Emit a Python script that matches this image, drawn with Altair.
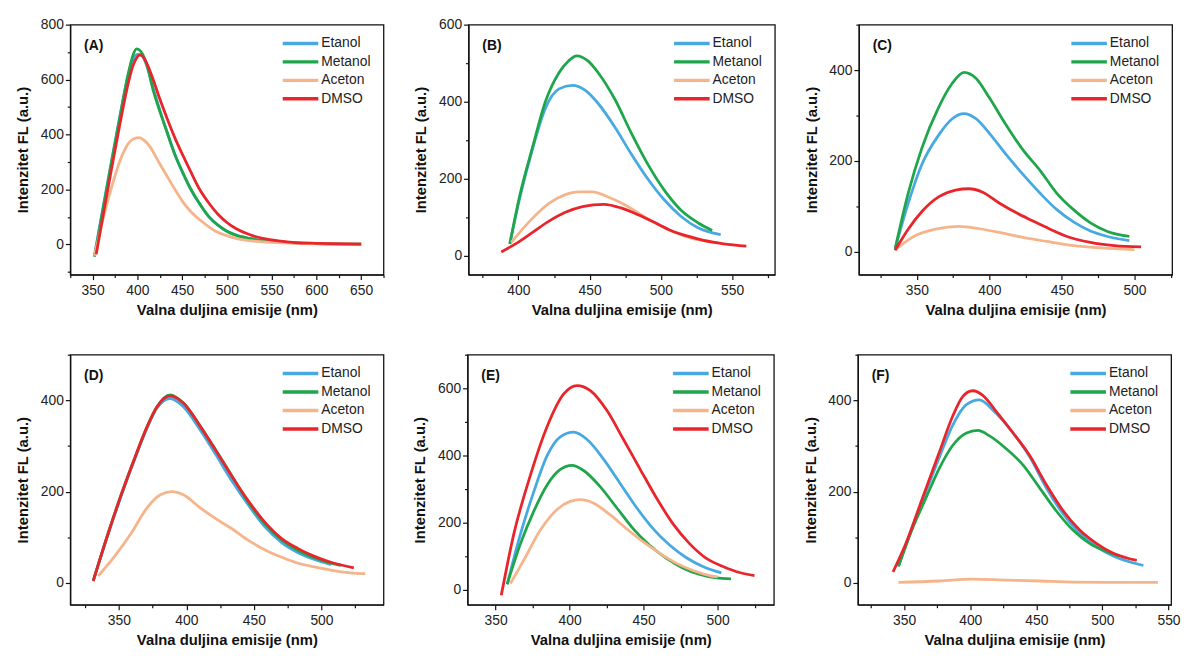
import altair as alt
import pandas as pd

SOLVENTS = ["Etanol", "Metanol", "Aceton", "DMSO"]
COLORS = ["#47a9e1", "#1fa64b", "#f6b48b", "#e8252b"]

# ---- Panel A ----
A_ETANOL = [(352,-40),(360,105),(370,285),(380,460),(390,620),(395,672),(400,692),(405,688),(410,655),(418,565),(425,490),(433,410),(441,335),(451,258),(460,198),(470,145),(480,100),(490,70),(500,48),(510,34),(525,22),(540,14),(560,8),(600,3),(650,1)]
A_METANOL = [(352,-45),(360,100),(370,280),(380,455),(390,625),(395,688),(399,712),(404,702),(410,660),(418,557),(425,485),(433,410),(441,335),(451,260),(460,200),(470,146),(480,100),(490,70),(500,48),(510,34),(525,22),(540,14),(560,8),(600,3),(650,1)]
A_ACETON = [(352,-41),(360,70),(367,160),(375,250),(381,308),(390,368),(396,385),(402,389),(408,378),(414,356),(423,305),(433,249),(442,200),(451,154),(460,118),(470,89),(480,64),(488,47),(500,32),(510,22),(525,14),(545,8),(575,4),(610,2),(650,1)]
A_DMSO = [(354,-36),(360,75),(370,255),(380,430),(390,590),(395,650),(400,683),(403,690),(408,675),(413,640),(418,597),(425,530),(433,460),(442,387),(451,323),(460,262),(470,198),(480,150),(490,110),(500,80),(510,58),(525,36),(540,22),(560,12),(580,6),(600,4),(650,1)]

# ---- Panel B ----
B_ETANOL = [(394,30),(401,150),(410,278),(419,383),(428.5,433),(438,442),(447,429),(456,395),(468,332),(479,265),(491,198),(502.5,144),(514,102),(526,72),(542,54)]
B_METANOL = [(394,30),(401,156),(410,282),(419,400),(428.5,475),(435,505),(441,519),(449,505),(456,475),(468,404),(479,320),(491,236),(502.5,169),(514,118),(526,85),(536,65)]
B_ACETON = [(395,34),(410,97),(421.5,135),(433,158),(442,165),(451.6,165),(463,152),(475,131),(486,106),(498,81),(509.5,60),(521,45),(533,37),(540,33)]
B_DMSO = [(388,9),(398,30),(410,60),(421.5,89),(433,112),(445,127),(460,133),(472.5,123),(484,106),(496,85),(507,65),(519,50),(530,39),(544,30),(560,24)]

# ---- Panel C ----
C_ETANOL = [(335,7),(344,107),(353.5,193),(365,257),(374.4,293),(382.5,304),(390.7,293),(400,261),(411.6,214),(423,171),(435,129),(446.5,93),(458,66),(469.7,46),(481.4,34),(496.5,25)]
C_METANOL = [(335,7),(344,129),(353.5,229),(365,318),(374.4,371),(382.5,395),(390.7,382),(400,339),(411.6,279),(423,225),(435,179),(446.5,129),(458,93),(469.7,64),(481.4,45),(496.5,34)]
C_ACETON = [(336,7),(349,36),(362.8,50),(379,56),(393,51),(407,43),(423,32),(439.5,23),(458,14),(476.7,9),(500,5)]
C_DMSO = [(335,3.5),(344,50),(353.5,89),(365,121),(376.7,136),(386,139),(395,132),(407,107),(418.6,86),(430,68),(441.8,50),(453.5,34),(469.7,21),(486,14),(504.6,11)]

# ---- Panel D ----
D_ETANOL = [(331,4),(342,106),(351.7,190),(361.4,268),(371,340),(378,382),(388,404),(397.8,386),(410,336),(422,280),(434,222),(446,170),(458.4,122),(470.6,88),(482.7,66),(494.8,51),(507,40)]
D_METANOL = [(331,4),(342,108),(351.7,193),(361.4,271),(371,343),(378,385),(388,412),(397.8,394),(410,345),(422,290),(434,233),(446,176),(458.4,129),(470.6,94),(482.7,71),(494.8,55),(507,43),(515,38)]
D_ACETON = [(334.7,15),(346.8,58),(359,108),(371,165),(380.8,193),(389.3,200),(397.8,193),(410,165),(422,140),(434,118),(446,93),(458.4,72),(470.6,56),(482.7,43),(494.8,35),(507,28),(521.5,22),(532.4,20)]
D_DMSO = [(331,4),(342,108),(351.7,193),(361.4,271),(371,343),(378,385),(388,410),(397.8,394),(410,344),(422,289),(434,232),(446,179),(458.4,132),(470.6,97),(482.7,75),(494.8,58),(507,45),(524,33)]

# ---- Panel E ----
E_ETANOL = [(357.8,16),(366.8,166),(375.8,292),(384.8,399),(393.7,455),(402.7,469),(411.6,448),(422.9,389),(434,317),(445.3,244),(456.5,181),(467.7,132),(478.9,95),(490,69),(502.5,50)]
E_METANOL = [(357.8,16),(366.8,137),(375.8,234),(384.8,312),(393.7,358),(401.6,370),(409.4,355),(420.6,307),(431.8,244),(443,181),(454,132),(465.5,93),(476.7,64),(487.9,45),(499,35),(509,32)]
E_ACETON = [(360,18),(369,88),(380,176),(391.5,239),(400.4,263),(407,268),(416,258),(427,224),(438.6,181),(449.8,142),(461,108),(472,79),(483.4,57),(494.6,42),(500,38)]
E_DMSO = [(353.8,-17),(362.3,166),(373.5,341),(384.8,486),(396,583),(405,608),(414,593),(425,535),(436.3,448),(447.5,360),(458.7,273),(470,195),(481,137),(492.4,93),(503.6,69),(514.8,51),(524.9,42)]

# ---- Panel F ----
F_ETANOL = [(345.7,36),(356.3,122),(366.5,200),(376.6,275),(386.7,345),(396.8,390),(407,401),(417,379),(432.3,329),(445,276),(457.6,208),(470.3,151),(483,108),(495.6,79),(508.2,59),(531,38)]
F_METANOL = [(345.7,36),(356.3,119),(366.5,186),(376.6,251),(386.7,301),(396.8,328),(405.7,334),(414.6,322),(427.2,294),(440,258),(452.5,208),(465,158),(477.9,115),(490.5,86),(503,69),(513,59)]
F_ACETON = [(345.7,1),(376.6,4),(402,8),(427,6),(452.5,4),(478,1.5),(503,1),(542,1)]
F_DMSO = [(341.6,24),(351.3,86),(363.9,186),(376.6,286),(386.7,365),(394.3,408),(401.9,421),(409.5,411),(419.6,376),(432.3,329),(445,279),(457.6,215),(470.3,158),(483,115),(495.6,86),(508.2,65),(526,49)]

PANELS = {
    "A": dict(series=[A_ETANOL, A_METANOL, A_ACETON, A_DMSO], xdom=[325, 675], ydom=[-110, 800],
              xt=[325, 350, 375, 400, 425, 450, 475, 500, 525, 550, 575, 600, 625, 650, 675],
              yt=[-100, 0, 100, 200, 300, 400, 500, 600, 700, 800], w=317, h=253),
    "B": dict(series=[B_ETANOL, B_METANOL, B_ACETON, B_DMSO], xdom=[365, 580], ydom=[-50, 600],
              xt=[375, 400, 425, 450, 475, 500, 525, 550, 575],
              yt=[0, 100, 200, 300, 400, 500, 600], w=310, h=253),
    "C": dict(series=[C_ETANOL, C_METANOL, C_ACETON, C_DMSO], xdom=[310, 526], ydom=[-50, 500],
              xt=[325, 350, 375, 400, 425, 450, 475, 500, 525],
              yt=[0, 100, 200, 300, 400, 500], w=317, h=253),
    "D": dict(series=[D_ETANOL, D_METANOL, D_ACETON, D_DMSO], xdom=[314, 546], ydom=[-48, 500],
              xt=[325, 350, 375, 400, 425, 450, 475, 500, 525],
              yt=[0, 100, 200, 300, 400, 500], w=317, h=253),
    "E": dict(series=[E_ETANOL, E_METANOL, E_ACETON, E_DMSO], xdom=[331, 538], ydom=[-45, 700],
              xt=[350, 375, 400, 425, 450, 475, 500, 525],
              yt=[0, 100, 200, 300, 400, 500, 600, 700], w=310, h=253),
    "F": dict(series=[F_ETANOL, F_METANOL, F_ACETON, F_DMSO], xdom=[315, 552], ydom=[-48, 500],
              xt=[325, 350, 375, 400, 425, 450, 475, 500, 525, 550],
              yt=[0, 100, 200, 300, 400, 500], w=317, h=253),
}

FONT = "Liberation Sans"


def make_panel(key):
    p = PANELS[key]
    rows = []
    for si, (name, pts) in enumerate(zip(SOLVENTS, p["series"])):
        for i, (x, y) in enumerate(pts):
            rows.append({"solvent": name, "wl": x, "fl": y, "idx": i, "s": si})
    df = pd.DataFrame(rows)
    xaxis = alt.Axis(values=p["xt"], title="Valna duljina emisije (nm)", grid=False,
                     labelExpr="datum.value % 50 === 0 ? datum.label : ''",
                     tickSize={"condition": {"test": "datum.value % 50 === 0", "value": 5}, "value": 3},
                     labelOverlap=False, labelFlush=False, labelPadding=4, titlePadding=5,
                     labelFont=FONT, titleFont=FONT, labelFontSize=14, titleFontSize=15,
                     titleFontWeight="bold", labelColor="#222", titleColor="#111",
                     domainColor="#111", tickColor="#111", domainWidth=1.2, tickWidth=1.2)
    yaxis = alt.Axis(values=p["yt"], title="Intenzitet FL (a.u.)", grid=False,
                     labelExpr="datum.value % 200 === 0 ? datum.label : ''",
                     tickSize={"condition": {"test": "datum.value % 200 === 0", "value": 5}, "value": 3},
                     labelOverlap=False, labelFlush=False, labelPadding=2, titlePadding=10,
                     labelFont=FONT, titleFont=FONT, labelFontSize=14, titleFontSize=15,
                     titleFontWeight="bold", labelColor="#222", titleColor="#111",
                     domainColor="#111", tickColor="#111", domainWidth=1.2, tickWidth=1.2)
    lines = alt.Chart(df).mark_line(strokeWidth=2.8, interpolate="monotone", clip=True).encode(
        x=alt.X("wl:Q", scale=alt.Scale(domain=p["xdom"], nice=False, zero=False), axis=xaxis),
        y=alt.Y("fl:Q", scale=alt.Scale(domain=p["ydom"], nice=False, zero=False), axis=yaxis),
        color=alt.Color("solvent:N", scale=alt.Scale(domain=SOLVENTS, range=COLORS),
                        sort=SOLVENTS,
                        legend=alt.Legend(title=None, orient="none", legendX=p["w"] - 92,
                                          legendY=11,
                                          symbolType="M-3,0H3", symbolStrokeWidth=3.5,
                                          symbolSize=144, labelFontSize=14, labelFont=FONT,
                                          labelColor="#222", rowPadding=3.7, padding=0,
                                          labelOffset=13)),
        order=alt.Order("idx:Q"),
        detail="solvent:N",
    )
    lab = alt.Chart(pd.DataFrame({"t": [f"({key})"]})).mark_text(
        font=FONT, fontSize=14, fontWeight="bold", align="left", baseline="middle", color="#111"
    ).encode(x=alt.value(14), y=alt.value(22), text="t:N")
    return alt.layer(lines, lab).properties(width=p["w"], height=p["h"])


row1 = alt.hconcat(make_panel("A"), make_panel("B"), make_panel("C"), spacing=27).resolve_scale(color="independent")
row2 = alt.hconcat(make_panel("D"), make_panel("E"), make_panel("F"), spacing=27).resolve_scale(color="independent")
chart = alt.vconcat(row1, row2, spacing=29).resolve_scale(color="independent").properties(
    padding={"left": 6, "top": 5, "right": 2, "bottom": 0}
).configure_view(stroke="#111", strokeWidth=1.3).configure_axis(grid=False)

chart.save("out.html", embed_options={"renderer": "svg", "actions": False})
